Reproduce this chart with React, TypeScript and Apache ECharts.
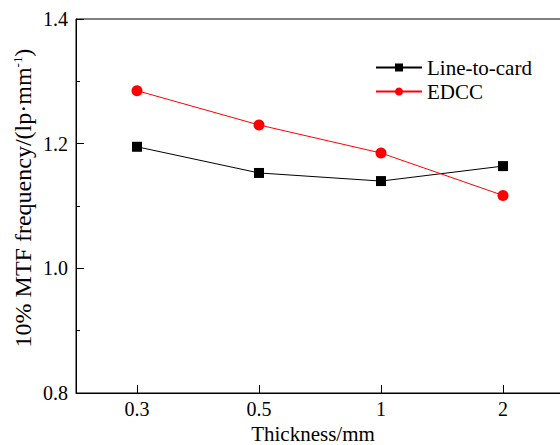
import React, { useEffect, useRef } from "react";
import * as echarts from "echarts";

const categories = ["0.3", "0.5", "1", "2"];
const lineToCard = [1.195, 1.153, 1.14, 1.164];
const edcc = [1.285, 1.23, 1.185, 1.117];
const yTicks = { min: 0.8, max: 1.4, interval: 0.2 };

const FONT = "'Liberation Serif', 'Times New Roman', serif";

export default function App() {
  const ref = useRef<HTMLDivElement>(null);
  useEffect(() => {
    if (!ref.current) return;
    const chart = echarts.init(ref.current, undefined, { renderer: "svg" });
    chart.setOption({
      animation: false,
      backgroundColor: "#fff",
      textStyle: { fontFamily: FONT, color: "#000" },
      grid: {
        show: true,
        left: 76,
        top: 19,
        width: 488,
        height: 374,
        outerBoundsMode: "none",
        containLabel: false,
        borderColor: "#000",
        borderWidth: 1,
        backgroundColor: "transparent",
      },
      legend: {
        orient: "vertical",
        left: 375,
        top: 57,
        padding: 0,
        itemWidth: 46,
        itemHeight: 10,
        itemGap: 3,
        textStyle: { fontFamily: FONT, fontSize: 21, color: "#000" },
        data: ["Line-to-card", "EDCC"],
      },
      xAxis: {
        type: "category",
        data: categories,
        boundaryGap: true,
        axisLine: { show: true, lineStyle: { color: "#000", width: 1 } },
        axisTick: {
          show: true,
          alignWithLabel: true,
          inside: true,
          length: 8,
          lineStyle: { color: "#000" },
        },
        axisLabel: { fontFamily: FONT, fontSize: 20, color: "#000", margin: 6 },
        splitLine: { show: false },
      },
      yAxis: {
        type: "value",
        min: yTicks.min,
        max: yTicks.max,
        interval: yTicks.interval,
        axisLine: { show: true, lineStyle: { color: "#000", width: 1 } },
        axisTick: { show: true, inside: true, length: 8, lineStyle: { color: "#000" } },
        minorTick: { show: true, splitNumber: 2, length: 4, lineStyle: { color: "#000" } },
        axisLabel: {
          fontFamily: FONT,
          fontSize: 20,
          color: "#000",
          margin: 8,
          formatter: (v: number) => v.toFixed(1),
        },
        splitLine: { show: false },
      },
      graphic: [
        {
          type: "text",
          x: 23,
          y: 198,
          rotation: Math.PI / 2,
          style: {
            text: "10% MTF frequency/(lp·mm{sup|-1})",
            fontFamily: FONT,
            fontSize: 24,
            fill: "#000",
            align: "center",
            verticalAlign: "middle",
            rich: {
              sup: { fontFamily: FONT, fontSize: 13, fill: "#000", padding: [0, 0, 12, 0] },
            },
          },
        },
        {
          type: "text",
          x: 313,
          y: 434,
          style: {
            text: "Thickness/mm",
            fontFamily: FONT,
            fontSize: 21,
            fill: "#000",
            align: "center",
            verticalAlign: "middle",
          },
        },
      ],
      series: [
        {
          name: "Line-to-card",
          type: "line",
          data: lineToCard,
          symbol: "rect",
          symbolSize: 10,
          lineStyle: { color: "#000", width: 1 },
          itemStyle: { color: "#000" },
        },
        {
          name: "EDCC",
          type: "line",
          data: edcc,
          symbol: "circle",
          symbolSize: 11,
          lineStyle: { color: "#ff0000", width: 1 },
          itemStyle: { color: "#ff0000" },
        },
      ],
    });
    return () => chart.dispose();
  }, []);
  return (
    <div
      ref={ref}
      style={{ position: "fixed", left: 0, top: 0, width: 560, height: 445 }}
    />
  );
}
